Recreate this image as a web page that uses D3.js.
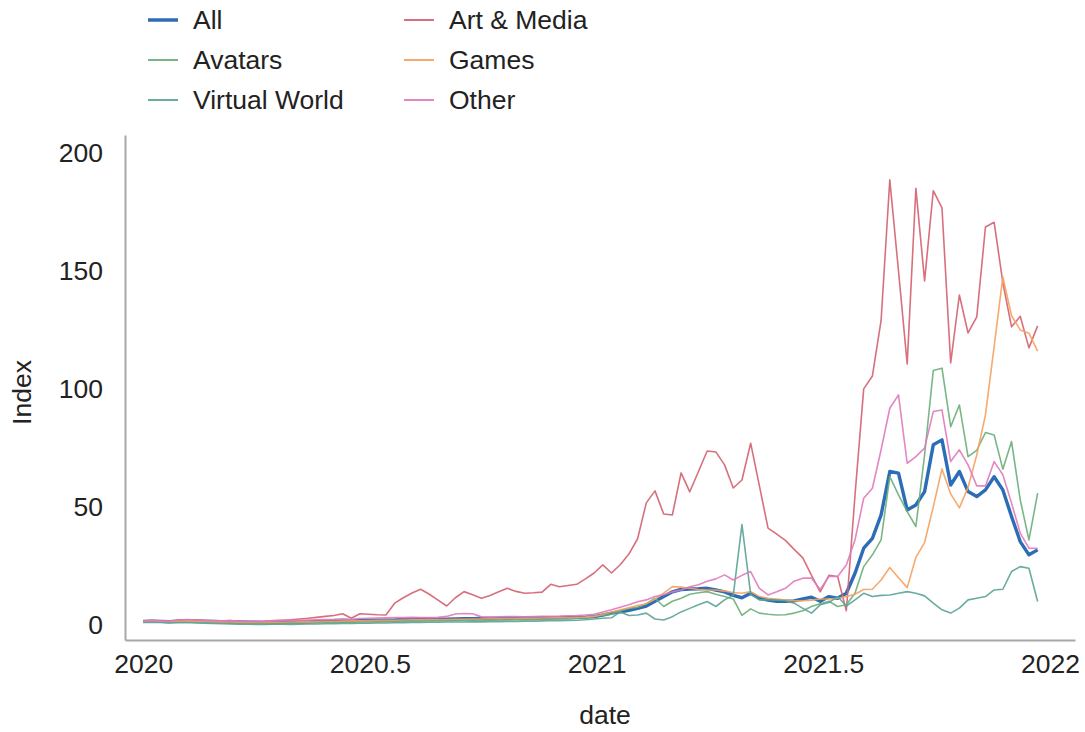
<!DOCTYPE html>
<html>
<head>
<meta charset="utf-8">
<script src="https://cdn.jsdelivr.net/npm/d3@7"></script>
<style>
    body { margin: 0; background: #fff; }
    svg { font-family: "Liberation Sans", Arial, sans-serif; }
    .tick-label { font-size: 26.5px; fill: #222; }
    .title { font-size: 26.5px; fill: #222; }
    .legend text { font-size: 26.5px; fill: #222; }
</style>
</head>
<body>
<div id="vis"></div>
<script>
// Weekly search index per category, 104 weeks starting 2020-01-01
let startDate = '2020-01-01';
let weekCount = 104;

let allValues = [
    1.5, 1.6, 1.5, 1.4, 1.6, 1.8, 1.7, 1.6, 1.5, 1.4,
    1.3, 1.2, 1.1, 1.1, 1.0, 1.0, 1.1, 1.2, 1.2, 1.3,
    1.4, 1.5, 1.6, 1.6, 1.7, 1.8, 1.9, 2.0, 2.0, 2.1,
    2.3, 2.4, 2.5, 2.5, 2.4, 2.4, 2.5, 2.6, 2.6, 2.7,
    2.7, 2.7, 2.8, 2.8, 2.9, 2.9, 3.0, 3.0, 3.1, 3.1,
    3.2, 3.3, 3.5, 4.2, 5.0, 5.5, 6.2, 7.0, 8.0, 10.0,
    12.0, 14.0, 15.0, 15.2, 15.3, 15.5, 14.8, 14.0, 12.5, 11.5,
    13.4, 11.3, 10.5, 10.0, 10.0, 10.2, 11.0, 11.7, 10.0, 12.0,
    11.3, 13.4, 21.9, 32.5, 36.7, 46.6, 65.0, 64.3, 48.7, 50.8,
    56.5, 76.3, 78.4, 59.3, 65.0, 56.5, 54.4, 57.2, 62.8, 57.2,
    45.9, 35.3, 29.7, 31.8
];

let artValues = [
    1.4, 1.8, 1.6, 1.5, 1.9, 2.2, 2.0, 1.8, 1.7, 1.6,
    1.8, 1.5, 1.4, 1.3, 1.5, 1.8, 2.0, 2.2, 2.5, 2.8,
    3.2, 3.6, 4.0, 4.7, 2.8, 4.7, 4.5, 4.3, 4.2, 9.2,
    11.5, 13.5, 15.1, 13.0, 10.5, 8.0, 11.5, 14.1, 12.8, 11.3,
    12.5, 14.0, 15.5, 14.2, 13.4, 13.6, 13.9, 17.2, 16.2, 16.7,
    17.2, 19.5, 22.0, 25.4, 22.0, 25.5, 30.0, 36.5, 51.7, 56.8,
    47.0, 46.6, 64.4, 56.4, 65.0, 73.7, 73.3, 67.8, 58.0, 61.4,
    77.0, 59.0, 41.0, 38.5, 35.8, 32.0, 28.4, 21.0, 14.0, 21.0,
    20.5, 6.0, 55.0, 100.0, 105.5, 129.0, 188.6, 150.0, 110.6, 185.0,
    145.8, 184.0, 176.7, 111.0, 139.8, 123.7, 130.5, 168.6, 170.6, 145.0,
    126.3, 130.8, 117.4, 126.7
];

let avatarValues = [
    1.2, 1.3, 1.2, 1.0, 1.1, 1.2, 1.1, 1.0, 0.9, 0.8,
    0.7, 0.6, 0.6, 0.5, 0.5, 0.6, 0.6, 0.7, 0.8, 0.8,
    0.9, 1.0, 1.0, 1.1, 1.1, 1.2, 1.3, 1.3, 1.4, 1.5,
    1.5, 1.6, 1.6, 1.7, 1.7, 1.8, 1.8, 1.9, 1.9, 2.0,
    2.0, 2.1, 2.1, 2.2, 2.2, 2.3, 2.4, 2.5, 2.5, 2.6,
    2.8, 3.2, 3.8, 4.0, 4.5, 6.0, 7.0, 7.5, 9.0, 11.3,
    7.8, 10.0, 11.3, 13.0, 13.6, 14.1, 13.0, 12.0, 11.0, 4.0,
    6.8, 5.0, 4.5, 4.2, 4.3, 5.0, 6.0, 7.8, 9.0, 10.0,
    7.8, 8.5, 13.4, 24.7, 29.7, 36.0, 62.8, 55.1, 48.0, 41.7,
    72.0, 107.8, 108.8, 84.0, 93.2, 71.3, 74.0, 81.5, 80.5, 66.0,
    77.7, 53.0, 36.0, 55.8
];

let gameValues = [
    1.3, 1.5, 1.4, 1.3, 1.5, 1.7, 1.6, 1.5, 1.4, 1.3,
    1.2, 1.1, 1.0, 1.0, 1.0, 1.1, 1.1, 1.2, 1.3, 1.3,
    1.4, 1.5, 1.5, 1.6, 1.7, 1.7, 1.8, 1.9, 1.9, 2.0,
    2.1, 2.2, 2.2, 2.3, 2.3, 2.3, 2.4, 2.4, 2.5, 2.5,
    2.6, 2.6, 2.7, 2.7, 2.8, 2.8, 2.9, 3.0, 3.0, 3.1,
    3.2, 3.3, 3.5, 4.5, 5.5, 6.4, 7.3, 8.2, 9.0, 10.9,
    13.5, 16.2, 16.0, 15.5, 15.0, 14.8, 14.8, 14.3, 13.7, 13.4,
    14.1, 12.0, 11.3, 11.0, 10.5, 10.2, 10.2, 10.5, 11.0, 11.0,
    11.3, 12.0, 13.0, 15.0, 15.1, 19.0, 24.3, 20.0, 15.8, 28.6,
    34.9, 50.0, 66.1, 55.5, 49.6, 58.3, 72.0, 89.0, 118.0, 147.5,
    131.0, 125.0, 123.6, 116.0
];

let worldValues = [
    1.0, 1.1, 1.0, 0.8, 0.9, 1.0, 0.8, 0.7, 0.6, 0.5,
    0.4, 0.3, 0.3, 0.2, 0.2, 0.3, 0.3, 0.2, 0.3, 0.4,
    0.4, 0.5, 0.5, 0.6, 0.6, 0.7, 0.7, 0.8, 0.8, 0.9,
    0.9, 1.0, 1.0, 1.1, 1.1, 1.2, 1.2, 1.2, 1.3, 1.3,
    1.4, 1.4, 1.5, 1.5, 1.6, 1.6, 1.7, 1.8, 1.8, 1.9,
    2.0, 2.2, 2.5, 2.8, 3.0, 5.5, 4.0, 4.2, 5.0, 2.5,
    2.1, 3.5, 5.5, 7.0, 8.5, 9.9, 7.8, 10.6, 12.5, 42.5,
    13.0, 10.6, 10.6, 10.5, 10.2, 9.2, 7.0, 5.0, 8.5, 9.5,
    12.0, 8.0, 10.6, 13.4, 12.0, 12.5, 12.7, 13.4, 14.1, 13.4,
    12.3, 9.2, 6.4, 5.0, 7.1, 10.6, 11.3, 12.0, 14.8, 15.1,
    22.6, 24.7, 24.0, 9.9
];

let otherValues = [
    1.6, 1.9, 1.7, 1.6, 2.0, 2.3, 2.1, 1.9, 1.8, 1.7,
    1.8, 1.6, 1.5, 1.4, 1.5, 1.7, 1.8, 1.9, 2.0, 2.1,
    2.2, 2.3, 2.4, 2.6, 2.4, 2.7, 2.8, 2.9, 3.0, 3.1,
    3.1, 3.2, 3.1, 3.1, 3.2, 3.6, 4.6, 4.8, 4.7, 3.4,
    3.3, 3.4, 3.5, 3.5, 3.4, 3.5, 3.6, 3.6, 3.7, 3.9,
    4.0, 4.2, 4.5, 5.5, 6.4, 7.5, 8.5, 9.8, 10.6, 12.0,
    12.8, 14.0, 14.8, 16.2, 17.0, 18.5, 19.5, 21.2, 19.0, 21.0,
    22.6, 15.5, 12.7, 14.0, 15.5, 18.5, 19.8, 19.8, 15.0, 20.5,
    20.5, 25.4, 36.0, 53.7, 57.9, 74.2, 91.8, 97.5, 68.5, 71.3,
    74.9, 90.4, 91.1, 69.2, 74.2, 67.8, 58.9, 58.9, 69.2, 63.6,
    51.6, 38.9, 32.5, 32.5
];

let categories = ['All', 'Art & Media', 'Avatars', 'Games', 'Virtual World', 'Other'];
let seriesValues = [allValues, artValues, avatarValues, gameValues, worldValues, otherValues];
let colors = ['#2c6db5', '#d3606f', '#6aae7a', '#f5a15e', '#5aa396', '#e07abd'];

let xTicks = [2020, 2020.5, 2021, 2021.5, 2022];
let yTicks = [0, 50, 100, 150, 200];

// decimal year for a date, e.g. 2020-07-01 -> 2020.497
let decimalYear = d => {
    let y = d.getFullYear();
    let a = new Date(y, 0, 1), b = new Date(y + 1, 0, 1);
    return y + (d - a) / (b - a);
};

let start = d3.timeParse('%Y-%m-%d')(startDate);
let dates = d3.range(weekCount).map(i => decimalYear(d3.timeWeek.offset(start, i)));

let svg = d3.select('#vis')
    .append('svg')
    .attr('width', 1085)
    .attr('height', 732);

// Plot frame (axis lines sit at the padded domain edges)
let frame = { left: 125, right: 1075, top: 135, bottom: 640 };

let xScale = d3.scaleLinear()
    .domain([2019.96, 2022.055])
    .range([frame.left, frame.right]);

let yScale = d3.scaleLinear()
    .domain([-6.4, 207.6])
    .range([frame.bottom, frame.top]);

// Axes: gray domain line, no tick marks
let xAxis = d3.axisBottom(xScale).tickValues(xTicks).tickSize(0).tickPadding(14).tickFormat(d3.format(''));
let yAxis = d3.axisLeft(yScale).tickValues(yTicks).tickSize(0).tickPadding(22).tickFormat(d3.format(''));

let xAxisG = svg.append('g')
    .attr('transform', `translate(0, ${frame.bottom})`)
    .call(xAxis);

let yAxisG = svg.append('g')
    .attr('transform', `translate(${frame.left}, 0)`)
    .call(yAxis);

[xAxisG, yAxisG].forEach(g => {
    g.attr('font-size', null).attr('font-family', null);
    g.select('.domain').attr('stroke', '#a8a8a8').attr('stroke-width', 2);
    g.selectAll('text').attr('class', 'tick-label');
});

svg.append('text')
    .attr('class', 'title')
    .attr('text-anchor', 'middle')
    .attr('transform', `translate(${(frame.left + frame.right) / 2 + 5}, 724)`)
    .text('date');

svg.append('text')
    .attr('class', 'title')
    .attr('text-anchor', 'middle')
    .attr('transform', `translate(31, ${(frame.top + frame.bottom) / 2 + 5}) rotate(-90)`)
    .text('Index');

// Lines
let line = d3.line()
    .x((d, i) => xScale(dates[i]))
    .y(d => yScale(d));

let lineG = svg.append('g').attr('fill', 'none');

seriesValues.forEach((vals, k) => {
    lineG.append('path')
        .datum(vals)
        .attr('d', line)
        .attr('stroke', colors[k])
        .attr('stroke-width', k === 0 ? 3.4 : 1.6)
        .attr('stroke-opacity', k === 0 ? 1 : 0.9)
        .attr('stroke-linejoin', 'round');
});

// Legend, two columns filled row by row
let legend = svg.append('g').attr('class', 'legend');
categories.forEach((name, k) => {
    let col = k % 2, row = Math.floor(k / 2);
    let lx = 148 + col * 256, ly = 20 + row * 40;
    legend.append('line')
        .attr('x1', lx).attr('x2', lx + 30)
        .attr('y1', ly).attr('y2', ly)
        .attr('stroke', colors[k])
        .attr('stroke-width', k === 0 ? 3.5 : 1.8);
    legend.append('text')
        .attr('x', lx + 45)
        .attr('y', ly)
        .attr('dy', '0.35em')
        .text(name);
});
</script>
</body>
</html>
